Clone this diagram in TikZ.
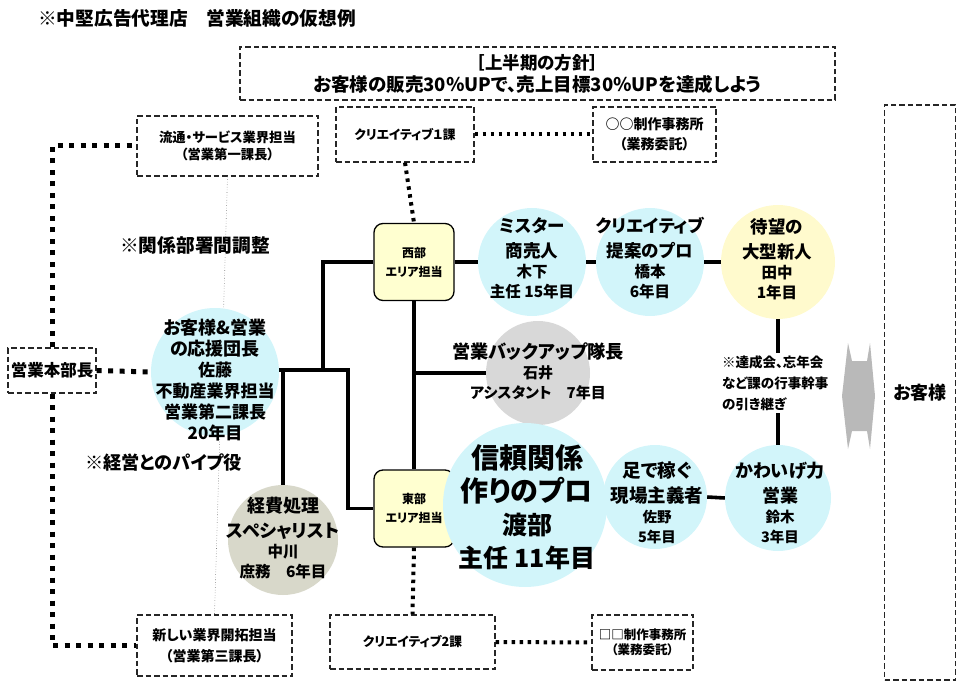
\documentclass[tikz,border=0pt]{standalone}
\usepackage{fontspec}
\newfontfamily\jp{Noto Sans CJK JP}[RawFeature=+palt]
\usepackage{tikz}
\definecolor{ballcyan}{RGB}{210,245,250}
\definecolor{ballyellow}{RGB}{255,250,205}
\definecolor{ballgray}{RGB}{216,216,216}
\definecolor{ballkhaki}{RGB}{216,216,202}
\definecolor{boxyellow}{RGB}{255,255,208}
\newcommand{\setfs}[2]{\fontsize{#1}{#2}\selectfont}

\begin{document}
\begin{tikzpicture}[x=1pt,y=-1pt,font=\jp\bfseries,
  dbox/.style={draw=black!85,line width=1.2pt,dash pattern=on 5.5pt off 3pt,align=center,inner sep=0pt},
  ball/.style={circle,inner sep=0pt,minimum size=#1},
  areabox/.style={draw,line width=1.3pt,rounded corners=9pt,fill=boxyellow,minimum width=80pt,minimum height=77pt,align=center,inner sep=0pt,font=\jp\bfseries\setfs{12}{19}},
  link/.style={line width=3.6pt},
  bigdots/.style={line width=5pt,dash pattern=on 5pt off 6.5pt},
  dots/.style={line width=4pt,dash pattern=on 3.5pt off 4.5pt},
  hair/.style={gray,line width=0.6pt,dotted},
  say/.style={align=center,inner sep=0pt}]
  \useasboundingbox (0,0) rectangle (960,684);
  % ---------------- title and policy
  \node[anchor=west,inner sep=0pt,font=\jp\bfseries\setfs{18.7}{20}] (title) at (38,18) {※中堅広告代理店　営業組織の仮想例};
  \node[dbox,minimum width=595pt,minimum height=53pt,font=\jp\bfseries\setfs{17.5}{22}] (policy) at (537.5,73.5)
    {［上半期の方針］\\\setfs{18.5}{22}お客様の販売30％UPで、売上目標30％UPを達成しよう};
  % ---------------- dashed boxes
  \node[dbox,minimum width=181pt,minimum height=60pt,font=\jp\bfseries\setfs{13.3}{17}] (ryutsu) at (227.5,146)
    {流通・サービス業界担当\\（営業第一課長）};
  \node[dbox,minimum width=155pt,minimum height=61pt,font=\jp\bfseries\setfs{14}{21}] (kaitaku) at (214.5,645.5)
    {新しい業界開拓担当\\（営業第三課長）};
  \node[dbox,minimum width=88pt,minimum height=45pt,font=\jp\bfseries\setfs{16.5}{18}] (honbu) at (52,370.5)
    {営業本部長};
  \node[dbox,minimum width=138pt,minimum height=55pt,font=\jp\bfseries\setfs{12.7}{14}] (cre1) at (405,134.5)
    {クリエイティブ１課};
  \node[dbox,minimum width=123pt,minimum height=55pt,font=\jp\bfseries\setfs{14}{20}] (office1) at (654.5,134.5)
    {○○制作事務所\\（業務委託）};
  \node[dbox,minimum width=165pt,minimum height=54pt,font=\jp\bfseries\setfs{12.7}{14}] (cre2) at (412.5,642)
    {クリエイティブ2課};
  \node[dbox,minimum width=101pt,minimum height=55pt,font=\jp\bfseries\setfs{12.5}{15}] (office2) at (642.5,642.5)
    {□□制作事務所\\（業務委託）};
  \node[dbox,minimum width=71pt,minimum height=575pt,font=\jp\bfseries\setfs{18}{20}] (kyaku) at (920,392.5)
    {お客様};
  % ---------------- area boxes
  \node[areabox] (west) at (414,262) {西部\\エリア担当};
  \node[areabox] (east) at (414,508.5) {東部\\エリア担当};
  \draw[hair] (ryutsu.south) -- (kaitaku.north);
  % ---------------- members
  \node[ball=128pt,fill=ballcyan] (sato) at (215,372) {};
  \node[ball=108pt,fill=ballcyan] (kinoshita) at (532,262) {};
  \node[ball=108pt,fill=ballcyan] (hashimoto) at (650,262) {};
  \node[ball=114pt,fill=ballyellow] (tanaka) at (778,262) {};
  \node[ball=104pt,fill=ballgray] (ishii) at (538,373) {};
  \node[ball=110pt,fill=ballkhaki] (nakagawa) at (283,540) {};
  \node[ball=164pt,fill=ballcyan] (watanabe) at (525,505) {};
  \node[ball=104pt,fill=ballcyan] (sano) at (655,497) {};
  \node[ball=106pt,fill=ballcyan] (suzuki) at (778,498) {};
  % ---------------- connectors
  \coordinate (j1) at (348,370);
  \coordinate (j2) at (323,370);
  \draw[link] (sato.east |- j1) -- (j1) |- (east.west);
  \draw[link] (j2) |- (west.west);
  \draw[link] (j1 -| nakagawa.north) -- (nakagawa.north);
  \draw[link] (west.south) -- (east.north);
  \draw[link] (west.south |- ishii.west) -- (ishii.west);
  \draw[link] (west.east) -- (kinoshita.west);
  \draw[link] (kinoshita.east) -- (hashimoto.west);
  \draw[link] (hashimoto.east) -- (tanaka.west);
  \draw[link] (sano.east) -- (suzuki.west);
  \draw[link] (tanaka.south) -- (suzuki.north);
  \draw[bigdots] (honbu.north) |- (ryutsu.west);
  \draw[bigdots] (honbu.south) |- (kaitaku.west);
  \draw[bigdots] (honbu.east) -- (sato.west);
  \draw[dots] (cre1.east) -- (office1.west);
  \draw[dots] (cre1.south) -- (west.north);
  \draw[dots] (east.south) -- (cre2.north);
  \draw[dots] (cre2.east) -- (office2.west);
  % ---------------- texts
  \node[say,font=\jp\bfseries\setfs{18}{21}] (sato-t) at (215,380)
    {お客様\&営業\\の応援団長\\\setfs{17}{20}佐藤\\\setfs{17}{20}不動産業界担当\\\setfs{17}{20}営業第二課長\\\setfs{17}{20}20年目};
  \node[say,font=\jp\bfseries\setfs{17.5}{20}] (kinoshita-t) at (532,258)
    {ミスター\\[5pt]商売人\\\setfs{15.5}{20}木下\\\setfs{15.5}{20}主任 15年目};
  \node[say,font=\jp\bfseries\setfs{17.5}{20}] (hashimoto-t) at (650,258)
    {クリエイティブ\\[5pt]提案のプロ\\\setfs{15.5}{20}橋本\\\setfs{15.5}{20}6年目};
  \node[say,font=\jp\bfseries\setfs{17.5}{20}] (tanaka-t) at (777,259)
    {待望の\\[5pt]大型新人\\\setfs{15.5}{20}田中\\\setfs{15.5}{20}1年目};
  \node[say,font=\jp\bfseries\setfs{18.2}{20}] (ishii-t) at (538,371)
    {営業バックアップ隊長\\\setfs{15}{19}石井\\\setfs{15}{19}アシスタント　7年目};
  \node[say,font=\jp\bfseries\setfs{18}{20}] (nakagawa-t) at (283,538)
    {経費処理\\[5pt]スペシャリスト\\\setfs{15.5}{20}中川\\\setfs{15.5}{20}庶務　6年目};
  \node[say,font=\jp\bfseries\setfs{28}{33}] (watanabe-t) at (527,507)
    {信頼関係\\作りのプロ\\\setfs{25}{30}渡部\\\setfs{25}{30}主任 11年目};
  \node[say,font=\jp\bfseries\setfs{18.5}{20}] (sano-t) at (657,503)
    {足で稼ぐ\\[5pt]現場主義者\\\setfs{14.5}{20}佐野\\\setfs{14.5}{20}5年目};
  \node[say,font=\jp\bfseries\setfs{18}{20}] (suzuki-t) at (780,503)
    {かわいげ力\\[5pt]営業\\\setfs{14.5}{20}鈴木\\\setfs{14.5}{20}3年目};
  \node[align=left,fill=white,inner sep=2pt,anchor=west,font=\jp\bfseries\setfs{13.5}{21}] (gyouji) at (720,383)
    {※達成会、忘年会\\など課の行事幹事\\の引き継ぎ};
  \node[inner sep=0pt,anchor=west,font=\jp\bfseries\setfs{18.7}{20}] (kankei) at (120,245) {※関係部署間調整};
  \node[inner sep=0pt,anchor=west,font=\jp\bfseries\setfs{18.2}{20}] (pipe) at (85,463) {※経営とのパイプ役};
  % ---------------- two-way arrow to customers
  \fill[gray!55] (842,396) -- (848,343) -- (852,361) -- (867,361) -- (870,343) -- (875,396)
    -- (870,449) -- (867,431) -- (852,431) -- (848,449) -- cycle;
\end{tikzpicture}
\end{document}
